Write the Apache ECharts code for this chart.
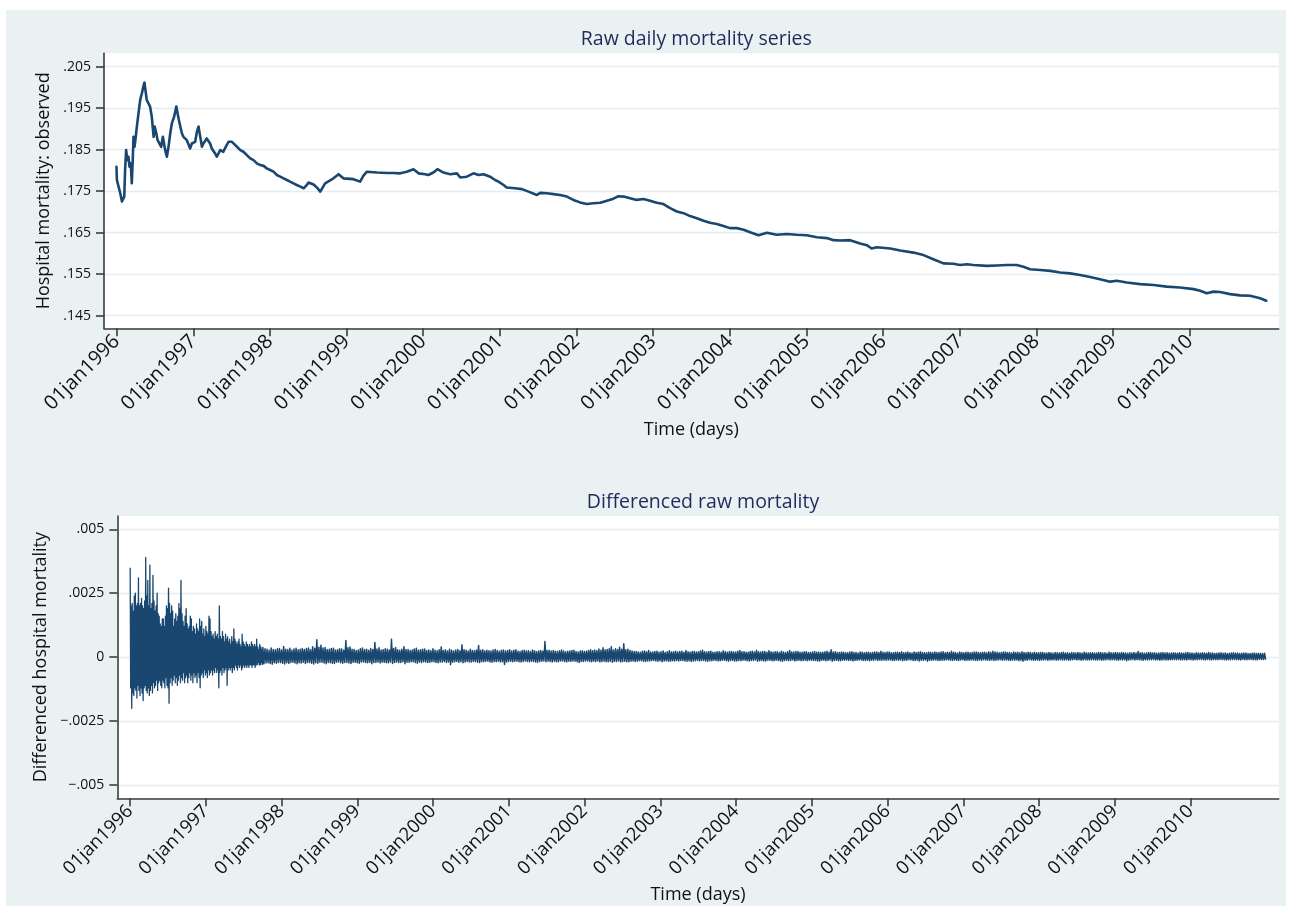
<!DOCTYPE html>
<html>
<head>
<meta charset="utf-8">
<title>Hospital mortality</title>
<script src="https://cdn.jsdelivr.net/npm/echarts@6/dist/echarts.min.js"></script>
<style>
  html, body { margin: 0; padding: 0; background: #ffffff; }
  #frame { position: absolute; left: 6px; top: 10px; width: 1280px; height: 896px; background: #eaf1f3; }
  #chart { position: absolute; left: 0; top: 0; width: 1291px; height: 916px; }
</style>
</head>
<body>
<div id="frame"></div>
<div id="chart"></div>
<script>
// ---- axis ticks ----
const years = [1996, 1997, 1998, 1999, 2000, 2001, 2002, 2003, 2004, 2005, 2006, 2007, 2008, 2009, 2010];
const rawTicks = [0.145, 0.155, 0.165, 0.175, 0.185, 0.195, 0.205];
const diffTicks = [-0.005, -0.0025, 0, 0.0025, 0.005];

// ---- raw daily mortality: day number since 01jan1996, value ----
const rawDays = [
  0, 2, 10, 18, 26, 30, 37, 41, 46, 52,
  57, 62, 68, 73, 78, 81, 86, 90, 97, 105, 113,
  121, 128, 133, 140, 144, 152, 160, 168, 177, 182,
  190, 196, 205, 213, 221, 232, 240, 248, 256, 264,
  275, 285, 291, 297, 304, 312, 319, 327, 335, 343,
  351, 359, 367, 375, 383, 391, 395, 402, 407, 414,
  422, 430, 438, 446, 454, 462, 470, 478, 486, 494,
  502, 509, 517, 525, 534, 542, 550, 558, 574, 590,
  605, 621, 637, 653, 669, 685, 701, 716, 732, 748,
  764, 780, 796, 812, 827, 843, 859, 876, 892, 899,
  907, 915, 923, 939, 955, 971, 994, 1034, 1058, 1081,
  1129, 1161, 1176, 1193, 1241, 1289, 1320, 1352, 1383, 1415,
  1439, 1471, 1486, 1510, 1529, 1558, 1590, 1622, 1638, 1669,
  1701, 1725, 1749, 1780, 1804, 1820, 1844, 1859, 1899, 1932,
  1963, 2003, 2019, 2051, 2082, 2114, 2146, 2177, 2209, 2241,
  2272, 2305, 2337, 2368, 2392, 2416, 2447, 2479, 2511, 2542,
  2574, 2606, 2638, 2670, 2702, 2733, 2765, 2797, 2828, 2860,
  2892, 2923, 2955, 2988, 3019, 3059, 3099, 3146, 3194, 3241,
  3289, 3337, 3385, 3416, 3448, 3495, 3543, 3575, 3598, 3622,
  3687, 3734, 3797, 3845, 3892, 3940, 3987, 4019, 4052, 4083,
  4147, 4194, 4242, 4289, 4321, 4353, 4401, 4449, 4496, 4544,
  4591, 4639, 4686, 4735, 4766, 4814, 4877, 4941, 5004, 5067,
  5132, 5163, 5195, 5227, 5258, 5306, 5353, 5401, 5449, 5478
];
const rawValues = [
  .1809, .1777, .1761, .1745, .1725, .1727, .1737, .1801, .1849, .1825,
  .1833, .1809, .1817, .1769, .1833, .1881, .1857, .1873, .1905, .1938, .1970,
  .1986, .2002, .2012, .1986, .1970, .1962, .1954, .1930, .1881, .1906,
  .1889, .1873, .1873, .1857, .1881, .1849, .1833, .1857, .1889, .1914,
  .1930, .1954, .1938, .1922, .1906, .1889, .1881, .1885, .1873, .1869,
  .1853, .1865, .1861, .1869, .1893, .1906, .1893, .1873, .1857, .1865,
  .1869, .1877, .1881, .1865, .1853, .1849, .1841, .1833, .1837, .1849,
  .1849, .1845, .1853, .1861, .1869, .1872, .1869, .1865, .1857, .1849,
  .1845, .1837, .1829, .1825, .1817, .1813, .1811, .1805, .1801, .1797,
  .1789, .1785, .1781, .1777, .1773, .1769, .1765, .1761, .1757, .1759,
  .1765, .1771, .1769, .1766, .1759, .1749, .1769, .1781, .1791, .1781,
  .1779, .1773, .1787, .1797, .1795, .1794, .1794, .1793, .1797, .1803,
  .1793, .1791, .1789, .1795, .1803, .1795, .1791, .1793, .1783, .1785,
  .1793, .1789, .1791, .1785, .1777, .1773, .1765, .1759, .1757, .1755,
  .1749, .1741, .1746, .1745, .1743, .1741, .1737, .1729, .1723, .1719,
  .1721, .1722, .1727, .1732, .1738, .1737, .1733, .1729, .1731, .1727,
  .1722, .1719, .1709, .1701, .1697, .1690, .1685, .1679, .1674, .1671,
  .1666, .1661, .1661, .1657, .1651, .1644, .1650, .1645, .1647, .1645,
  .1644, .1639, .1637, .1632, .1631, .1632, .1624, .1620, .1612, .1615,
  .1612, .1607, .1602, .1596, .1586, .1576, .1575, .1572, .1574, .1572,
  .1570, .1571, .1572, .1572, .1568, .1562, .1560, .1558, .1554, .1552,
  .1548, .1543, .1538, .1532, .1534, .1530, .1526, .1524, .1520, .1518,
  .1514, .1510, .1504, .1508, .1507, .1502, .1499, .1498, .1492, .1486
];

// ---- differenced series: highest / lowest daily change in each block of days ----
const diffEarlyStart = 1;
const diffEarlyStep = 5;
const diffEarlyUpper = [
  .0035, .0020, .0021, .0018, .0024, .0025, .0020, .0021, .0031, .0020,
  .0021, .0023, .0020, .0019, .0022, .0039, .0024, .0030, .0020, .0036,
  .0019, .0021, .0032, .0022, .0018, .0020, .0025, .0017, .0016, .0013,
  .0012, .0015, .0015, .0012, .0016, .0020, .0019, .0027, .0021, .0017,
  .0020, .0018, .0012, .0015, .0017, .0014, .0016, .0021, .0019, .0030,
  .0017, .0014, .0012, .0016, .0019, .0013, .0011, .0012, .0016, .0015,
  .0010, .0012, .0011, .0009, .0013, .0011, .0010, .0015, .0012, .0014,
  .0009, .0011, .0008, .0012, .0010, .0009, .0016, .0015, .0010, .0008,
  .0009, .0007, .0010, .0008, .0009, .0007, .0020, .0008, .0007, .0010,
  .0008, .0006, .0009, .0007, .0008, .0006, .0007, .0005, .0008, .0006,
  .0011, .0007, .0006, .0005, .0006, .0007, .0005, .0004, .0009, .0006,
  .0005, .0004, .0006, .0005, .0004, .0005, .0004, .0006, .0005, .0004,
  .0005, .0004, .0007, .0004, .0003, .0005, .0004, .0003
];
const diffEarlyLower = [
  -.0012, -.0020, -.0014, -.0015, -.0012, -.0013, -.0016, -.0011, -.0013, -.0015,
  -.0012, -.0014, -.0017, -.0012, -.0011, -.0013, -.0014, -.0012, -.0015, -.0013,
  -.0011, -.0014, -.0010, -.0012, -.0011, -.0009, -.0013, -.0010, -.0009, -.0011,
  -.0012, -.0009, -.0010, -.0012, -.0008, -.0011, -.0012, -.0018, -.0010, -.0008,
  -.0011, -.0009, -.0007, -.0010, -.0008, -.0011, -.0009, -.0007, -.0010, -.0008,
  -.0009, -.0006, -.0010, -.0008, -.0007, -.0010, -.0008, -.0006, -.0009, -.0007,
  -.0010, -.0006, -.0008, -.0007, -.0010, -.0006, -.0008, -.0012, -.0007, -.0006,
  -.0008, -.0005, -.0007, -.0006, -.0008, -.0005, -.0007, -.0006, -.0005, -.0007,
  -.0005, -.0006, -.0004, -.0006, -.0005, -.0012, -.0006, -.0005, -.0007, -.0004,
  -.0006, -.0005, -.0004, -.0011, -.0005, -.0004, -.0005, -.0004, -.0006, -.0004,
  -.0005, -.0003, -.0004, -.0005, -.0003, -.0004, -.0003, -.0005, -.0004, -.0003,
  -.0004, -.0003, -.0004, -.0003, -.0004, -.0003, -.0003, -.0004, -.0003, -.0003,
  -.0004, -.0003, -.0003, -.0002, -.0003, -.0003, -.0002, -.0003
];
const diffLateStart = 641;
const diffLateStep = 10;
const diffLateUpper = [
  .00038, .00033, .00031, .00027, .00036, .00030, .00029, .00033, .00034, .00028, .00042, .00031, .00030, .00035, .00027, .00032, .00035, .00029, .00031, .00034,
  .00030, .00034, .00036, .00029, .00041, .00035, .00068, .00039, .00047, .00036, .00038, .00030, .00031, .00034, .00035, .00028, .00029, .00033, .00032, .00027,
  .00065, .00037, .00040, .00031, .00030, .00026, .00028, .00033, .00036, .00029, .00031, .00027, .00034, .00030, .00057, .00032, .00037, .00028, .00029, .00033,
  .00031, .00028, .00070, .00034, .00038, .00029, .00027, .00031, .00041, .00030, .00030, .00026, .00028, .00032, .00035, .00027, .00029, .00031, .00032, .00026,
  .00028, .00025, .00033, .00027, .00025, .00029, .00040, .00026, .00029, .00024, .00031, .00027, .00024, .00028, .00030, .00025, .00048, .00029, .00027, .00024,
  .00031, .00026, .00025, .00028, .00046, .00027, .00029, .00024, .00027, .00025, .00024, .00028, .00030, .00026, .00023, .00027, .00028, .00024, .00026, .00029,
  .00024, .00027, .00029, .00023, .00022, .00026, .00027, .00024, .00025, .00022, .00028, .00025, .00021, .00024, .00026, .00023, .00061, .00026, .00027, .00024,
  .00026, .00023, .00022, .00025, .00028, .00024, .00021, .00023, .00024, .00026, .00027, .00022, .00020, .00024, .00025, .00022, .00023, .00026, .00029, .00025,
  .00028, .00025, .00032, .00027, .00037, .00029, .00030, .00033, .00041, .00028, .00033, .00030, .00039, .00031, .00052, .00029, .00031, .00026, .00024, .00022,
  .00022, .00020, .00019, .00023, .00024, .00021, .00026, .00020, .00020, .00022, .00023, .00019, .00021, .00024, .00018, .00021, .00025, .00020, .00021, .00023,
  .00020, .00022, .00023, .00019, .00026, .00021, .00019, .00022, .00022, .00020, .00021, .00024, .00027, .00021, .00020, .00022, .00023, .00019, .00019, .00021,
  .00021, .00019, .00025, .00021, .00019, .00022, .00022, .00020, .00020, .00023, .00026, .00021, .00021, .00019, .00019, .00022, .00023, .00020, .00027, .00021,
  .00020, .00022, .00022, .00019, .00025, .00021, .00019, .00021, .00021, .00018, .00023, .00020, .00018, .00021, .00026, .00020, .00020, .00022, .00022, .00019,
  .00019, .00021, .00021, .00018, .00018, .00020, .00022, .00019, .00020, .00018, .00019, .00021, .00023, .00019, .00029, .00020, .00021, .00018, .00018, .00020,
  .00019, .00017, .00017, .00020, .00021, .00018, .00018, .00016, .00020, .00019, .00017, .00019, .00019, .00017, .00018, .00020, .00020, .00018, .00023, .00019,
  .00018, .00020, .00020, .00017, .00017, .00019, .00019, .00018, .00021, .00017, .00018, .00020, .00017, .00016, .00020, .00018, .00019, .00021, .00018, .00017,
  .00017, .00019, .00019, .00017, .00020, .00018, .00018, .00020, .00021, .00017, .00019, .00018, .00023, .00019, .00018, .00016, .00020, .00018, .00017, .00019,
  .00019, .00017, .00018, .00020, .00020, .00018, .00017, .00019, .00019, .00017, .00021, .00018, .00023, .00020, .00019, .00017, .00018, .00020, .00020, .00018,
  .00018, .00016, .00020, .00018, .00019, .00017, .00021, .00018, .00017, .00019, .00018, .00016, .00019, .00017, .00017, .00018, .00018, .00016, .00016, .00018,
  .00017, .00015, .00018, .00017, .00016, .00018, .00019, .00016, .00017, .00015, .00018, .00017, .00016, .00018, .00017, .00015, .00019, .00017, .00016, .00017,
  .00017, .00016, .00016, .00018, .00018, .00016, .00017, .00015, .00019, .00017, .00016, .00018, .00017, .00016, .00018, .00017, .00016, .00015, .00017, .00016,
  .00018, .00016, .00022, .00017, .00017, .00015, .00016, .00018, .00018, .00016, .00017, .00015, .00016, .00017, .00018, .00016, .00017, .00015, .00016, .00017,
  .00016, .00015, .00017, .00016, .00015, .00017, .00018, .00016, .00016, .00014, .00017, .00016, .00015, .00017, .00016, .00015, .00018, .00016, .00016, .00014,
  .00015, .00016, .00017, .00015, .00016, .00014, .00015, .00016, .00017, .00015, .00016, .00014, .00015, .00016, .00016, .00014, .00014, .00015, .00016, .00014,
  .00015, .00014, .00014, .00015
];
const diffLateLower = [
  -.00026, -.00023, -.00022, -.00025, -.00028, -.00022, -.00024, -.00021, -.00021, -.00024, -.00027, -.00022, -.00025, -.00021, -.00020, -.00023, -.00026, -.00022, -.00023, -.00020,
  -.00025, -.00021, -.00021, -.00024, -.00027, -.00022, -.00024, -.00020, -.00020, -.00023, -.00026, -.00021, -.00022, -.00024, -.00025, -.00020, -.00019, -.00022, -.00024, -.00021,
  -.00021, -.00023, -.00025, -.00020, -.00020, -.00022, -.00024, -.00019, -.00019, -.00021, -.00022, -.00020, -.00026, -.00021, -.00021, -.00019, -.00023, -.00020, -.00020, -.00022,
  -.00022, -.00019, -.00025, -.00021, -.00019, -.00021, -.00021, -.00018, -.00026, -.00020, -.00020, -.00018, -.00018, -.00021, -.00024, -.00019, -.00021, -.00018, -.00019, -.00021,
  -.00020, -.00018, -.00018, -.00021, -.00022, -.00019, -.00019, -.00017, -.00021, -.00019, -.00030, -.00020, -.00018, -.00017, -.00020, -.00018, -.00022, -.00019, -.00017, -.00019,
  -.00019, -.00017, -.00017, -.00020, -.00021, -.00018, -.00018, -.00016, -.00016, -.00019, -.00020, -.00017, -.00018, -.00016, -.00019, -.00018, -.00029, -.00019, -.00017, -.00016,
  -.00018, -.00016, -.00016, -.00018, -.00019, -.00017, -.00015, -.00017, -.00018, -.00016, -.00017, -.00019, -.00020, -.00017, -.00016, -.00015, -.00018, -.00016, -.00017, -.00019,
  -.00016, -.00018, -.00018, -.00015, -.00015, -.00017, -.00019, -.00016, -.00017, -.00015, -.00016, -.00018, -.00021, -.00017, -.00017, -.00015, -.00015, -.00017, -.00018, -.00016,
  -.00017, -.00015, -.00019, -.00017, -.00016, -.00018, -.00018, -.00016, -.00020, -.00017, -.00017, -.00015, -.00019, -.00017, -.00016, -.00018, -.00018, -.00016, -.00015, -.00017,
  -.00016, -.00014, -.00014, -.00016, -.00017, -.00015, -.00015, -.00013, -.00013, -.00015, -.00016, -.00014, -.00018, -.00015, -.00014, -.00016, -.00016, -.00014, -.00015, -.00013,
  -.00015, -.00013, -.00013, -.00015, -.00016, -.00014, -.00017, -.00015, -.00014, -.00012, -.00015, -.00013, -.00013, -.00015, -.00016, -.00014, -.00014, -.00012, -.00013, -.00015,
  -.00014, -.00012, -.00012, -.00014, -.00016, -.00013, -.00013, -.00015, -.00015, -.00013, -.00014, -.00012, -.00012, -.00014, -.00015, -.00013, -.00013, -.00011, -.00016, -.00014,
  -.00013, -.00015, -.00015, -.00012, -.00012, -.00014, -.00014, -.00012, -.00013, -.00015, -.00016, -.00013, -.00012, -.00014, -.00013, -.00011, -.00015, -.00013, -.00012, -.00014,
  -.00013, -.00012, -.00014, -.00012, -.00012, -.00013, -.00013, -.00015, -.00015, -.00012, -.00012, -.00014, -.00013, -.00011, -.00016, -.00013, -.00012, -.00014, -.00014, -.00012,
  -.00012, -.00011, -.00013, -.00012, -.00015, -.00013, -.00012, -.00011, -.00011, -.00013, -.00013, -.00012, -.00014, -.00012, -.00012, -.00010, -.00013, -.00012, -.00012, -.00011,
  -.00012, -.00011, -.00011, -.00013, -.00013, -.00011, -.00012, -.00011, -.00014, -.00012, -.00012, -.00010, -.00011, -.00013, -.00013, -.00012, -.00015, -.00012, -.00012, -.00011,
  -.00016, -.00012, -.00012, -.00011, -.00011, -.00013, -.00013, -.00012, -.00012, -.00010, -.00011, -.00012, -.00013, -.00011, -.00012, -.00013, -.00011, -.00010, -.00013, -.00012,
  -.00012, -.00011, -.00011, -.00012, -.00013, -.00011, -.00012, -.00010, -.00011, -.00012, -.00012, -.00011, -.00013, -.00012, -.00011, -.00010, -.00012, -.00011, -.00011, -.00012,
  -.00013, -.00011, -.00012, -.00011, -.00014, -.00012, -.00016, -.00012, -.00012, -.00010, -.00011, -.00012, -.00012, -.00011, -.00013, -.00011, -.00011, -.00010, -.00012, -.00011,
  -.00011, -.00010, -.00012, -.00011, -.00010, -.00011, -.00011, -.00010, -.00012, -.00011, -.00010, -.00009, -.00011, -.00010, -.00012, -.00011, -.00010, -.00011, -.00011, -.00010,
  -.00010, -.00011, -.00011, -.00010, -.00012, -.00011, -.00010, -.00009, -.00011, -.00010, -.00010, -.00011, -.00012, -.00010, -.00011, -.00010, -.00014, -.00011, -.00010, -.00009,
  -.00011, -.00010, -.00010, -.00011, -.00012, -.00010, -.00011, -.00010, -.00010, -.00009, -.00011, -.00010, -.00012, -.00011, -.00010, -.00011, -.00011, -.00010, -.00010, -.00009,
  -.00010, -.00009, -.00011, -.00010, -.00010, -.00011, -.00009, -.00010, -.00011, -.00010, -.00010, -.00009, -.00009, -.00010, -.00011, -.00009, -.00010, -.00011, -.00009, -.00010,
  -.00010, -.00009, -.00009, -.00010, -.00011, -.00010, -.00010, -.00009, -.00009, -.00010, -.00010, -.00011, -.00009, -.00010, -.00010, -.00009, -.00009, -.00010, -.00010, -.00011,
  -.00008, -.00009, -.00009, -.00010
];

// ---- helpers ----
const DAY0 = Date.UTC(1996, 0, 1);
const yearTicks = years.map(y => (Date.UTC(y, 0, 1) - DAY0) / 86400000);
function yearLabel(v) {
  const i = yearTicks.findIndex(t => Math.abs(t - v) < 0.5);
  return i >= 0 ? '01jan' + years[i] : '';
}
function statNum(v) {
  if (Math.abs(v) < 1e-12) return '0';
  const s = String(+v.toPrecision(4)).replace(/^(-?)0\./, '$1.');
  return s.replace('-', '\u2212');
}

const rawData = rawDays.map((d, i) => [d, rawValues[i]]);

// each block is drawn as its high then its low, giving the dense zig-zag of daily changes
function zigzag(start, step, upper, lower) {
  const out = [];
  upper.forEach((u, i) => {
    const d = start + i * step;
    out.push([d, u], [d + step / 2, lower[i]]);
  });
  return out;
}
const diffEarlyData = zigzag(diffEarlyStart, diffEarlyStep, diffEarlyUpper, diffEarlyLower);
const diffLateData = [diffEarlyData[diffEarlyData.length - 1]]
  .concat(zigzag(diffLateStart, diffLateStep, diffLateUpper, diffLateLower));

// ---- styling ----
const FONT = "'Open Sans', 'DejaVu Sans', sans-serif";
const NAVY = '#1a476f';
const AXIS = '#3b3b3b';
const GRIDLINE = '#e3ecee';
const TITLE = '#1f2b5a';

function xAxisFor(gridIndex, min, max, labelSize, nameGap) {
  return {
    type: 'value', gridIndex, min, max,
    axisLine: { show: true, onZero: false, lineStyle: { color: AXIS, width: 1.6 } },
    axisTick: { show: true, customValues: yearTicks, length: 8, lineStyle: { color: AXIS, width: 1.6 } },
    axisLabel: {
      show: true, customValues: yearTicks, rotate: 45, margin: 10,
      fontFamily: FONT, fontSize: labelSize, color: '#111',
      formatter: yearLabel
    },
    splitLine: { show: false },
    name: 'Time (days)', nameLocation: 'middle', nameGap,
    nameTextStyle: { fontFamily: FONT, fontSize: 18, color: '#111' }
  };
}
function yAxisFor(gridIndex, min, max, ticks, name, nameGap) {
  return {
    type: 'value', gridIndex, min, max,
    axisLine: { show: true, onZero: false, lineStyle: { color: AXIS, width: 1.6 } },
    axisTick: { show: true, customValues: ticks, length: 8, lineStyle: { color: AXIS, width: 1.6 } },
    axisLabel: {
      show: true, customValues: ticks, margin: 13,
      fontFamily: FONT, fontSize: 14, color: '#111',
      formatter: statNum
    },
    splitLine: { show: true, lineStyle: { color: GRIDLINE, width: 1.3 } },
    name, nameLocation: 'middle', nameGap, nameRotate: 90,
    nameTextStyle: { fontFamily: FONT, fontSize: 18, color: '#111' }
  };
}

const chart = echarts.init(document.getElementById('chart'), null, { renderer: 'canvas' });
chart.setOption({
  animation: false,
  backgroundColor: 'transparent',
  title: [
    { text: 'Raw daily mortality series', left: 691.3, top: 24, textAlign: 'center',
      textStyle: { fontFamily: FONT, fontSize: 19.5, fontWeight: 'normal', color: TITLE } },
    { text: 'Differenced raw mortality', left: 698, top: 487, textAlign: 'center',
      textStyle: { fontFamily: FONT, fontSize: 19.5, fontWeight: 'normal', color: TITLE } }
  ],
  grid: [
    { left: 104, right: 12.3, top: 53.3, height: 275, show: true, backgroundColor: '#ffffff', borderWidth: 0 },
    { left: 117.3, right: 12.3, top: 516, height: 282.3, show: true, backgroundColor: '#ffffff', borderWidth: 0 }
  ],
  xAxis: [
    xAxisFor(0, -59.5, 5537.5, 20, 93),
    xAxisFor(1, -61, 5539, 18.5, 88)
  ],
  yAxis: [
    yAxisFor(0, 0.14196, 0.20823, rawTicks, 'Hospital mortality: observed', 51),
    yAxisFor(1, -0.00552, 0.00552, diffTicks, 'Differenced hospital mortality', 65)
  ],
  series: [
    { type: 'line', xAxisIndex: 0, yAxisIndex: 0, data: rawData, showSymbol: false, symbol: 'none',
      lineStyle: { color: NAVY, width: 2.6, join: 'round', cap: 'round' }, silent: true },
    { type: 'line', xAxisIndex: 1, yAxisIndex: 1, data: diffEarlyData, showSymbol: false, symbol: 'none',
      lineStyle: { color: NAVY, width: 1.3, join: 'round' }, silent: true },
    { type: 'line', xAxisIndex: 1, yAxisIndex: 1, data: diffLateData, showSymbol: false, symbol: 'none',
      lineStyle: { color: NAVY, width: 1.5, join: 'round' }, silent: true }
  ]
});
</script>
</body>
</html>
